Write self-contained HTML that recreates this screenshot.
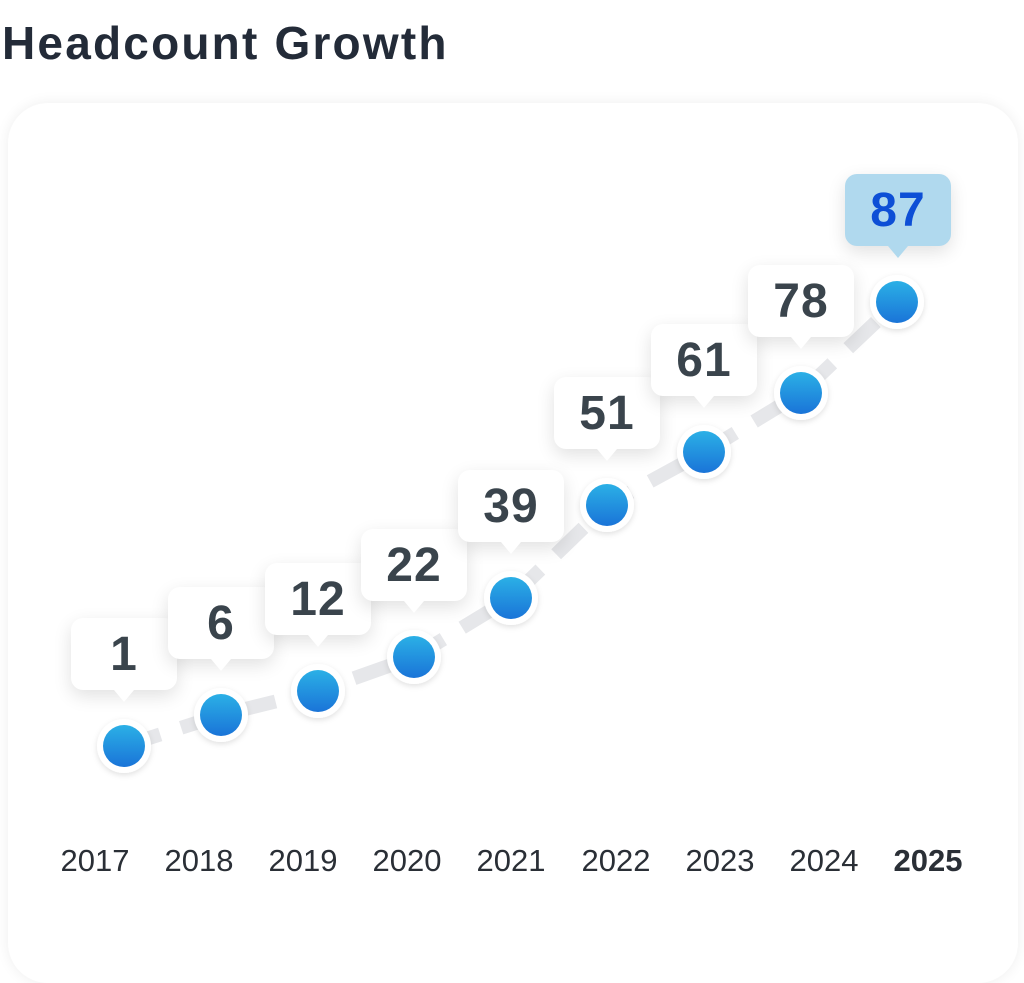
<!DOCTYPE html>
<html><head><style>
body{margin:0;width:1024px;height:957px;background:#fff;font-family:"Liberation Sans",sans-serif;overflow:hidden;position:relative}
h1{position:absolute;left:2px;top:16px;margin:0;font-size:46px;font-weight:bold;color:#232b38;letter-spacing:2.2px}
.card{position:absolute;left:8px;top:103px;width:1010px;height:880px;border-radius:40px;background:#fff;box-shadow:0 0 14px rgba(0,0,0,0.07)}
.yr{position:absolute;top:843px;font-size:31px;color:#2a2f36;width:104px;text-align:center}
.lbl{position:absolute;width:106px;height:72px;border-radius:12px;background:#fff;box-shadow:0 6px 18px rgba(0,0,0,0.12);font-size:48px;font-weight:bold;color:#3a444c;text-align:center;line-height:74px;letter-spacing:1px}
.lbl:after{content:"";position:absolute;left:43px;bottom:-12px;border-left:10px solid transparent;border-right:10px solid transparent;border-top:12px solid #fff}
.hl{background:#b0d9ee;color:#0d4fd6}
.hl:after{border-top-color:#b0d9ee}
</style></head><body>
<h1>Headcount Growth</h1>
<div class="card"></div>
<svg style="position:absolute;left:0;top:0" width="1024" height="957">
<defs><linearGradient id="g" x1="0" y1="0" x2="0" y2="1"><stop offset="0" stop-color="#2bb0e6"/><stop offset="1" stop-color="#1a74d8"/></linearGradient>
<filter id="s"><feDropShadow dx="0" dy="2" stdDeviation="3" flood-opacity="0.12"/></filter></defs>
<polyline points="124,746 221,715 318,691 414,657 511,598 607,505 704,452 801,393 897,302" fill="none" stroke="#e6e7ea" stroke-width="14" stroke-dasharray="38 22"/>
<g filter="url(#s)" fill="#fff">
<circle cx="124" cy="746" r="27"/><circle cx="221" cy="715" r="27"/><circle cx="318" cy="691" r="27"/><circle cx="414" cy="657" r="27"/><circle cx="511" cy="598" r="27"/><circle cx="607" cy="505" r="27"/><circle cx="704" cy="452" r="27"/><circle cx="801" cy="393" r="27"/><circle cx="897" cy="302" r="27"/>
</g>
<g fill="url(#g)">
<circle cx="124" cy="746" r="21"/><circle cx="221" cy="715" r="21"/><circle cx="318" cy="691" r="21"/><circle cx="414" cy="657" r="21"/><circle cx="511" cy="598" r="21"/><circle cx="607" cy="505" r="21"/><circle cx="704" cy="452" r="21"/><circle cx="801" cy="393" r="21"/><circle cx="897" cy="302" r="21"/>
</g>
</svg>
<div class="lbl" style="left:71px;top:618px">1</div>
<div class="lbl" style="left:168px;top:587px">6</div>
<div class="lbl" style="left:265px;top:563px">12</div>
<div class="lbl" style="left:361px;top:529px">22</div>
<div class="lbl" style="left:458px;top:470px">39</div>
<div class="lbl" style="left:554px;top:377px">51</div>
<div class="lbl" style="left:651px;top:324px">61</div>
<div class="lbl" style="left:748px;top:265px">78</div>
<div class="lbl hl" style="left:845px;top:174px">87</div>
<div class="yr" style="left:43px">2017</div>
<div class="yr" style="left:147px">2018</div>
<div class="yr" style="left:251px">2019</div>
<div class="yr" style="left:355px">2020</div>
<div class="yr" style="left:459px">2021</div>
<div class="yr" style="left:564px">2022</div>
<div class="yr" style="left:668px">2023</div>
<div class="yr" style="left:772px">2024</div>
<div class="yr" style="left:876px;font-weight:bold">2025</div>
</body></html>
